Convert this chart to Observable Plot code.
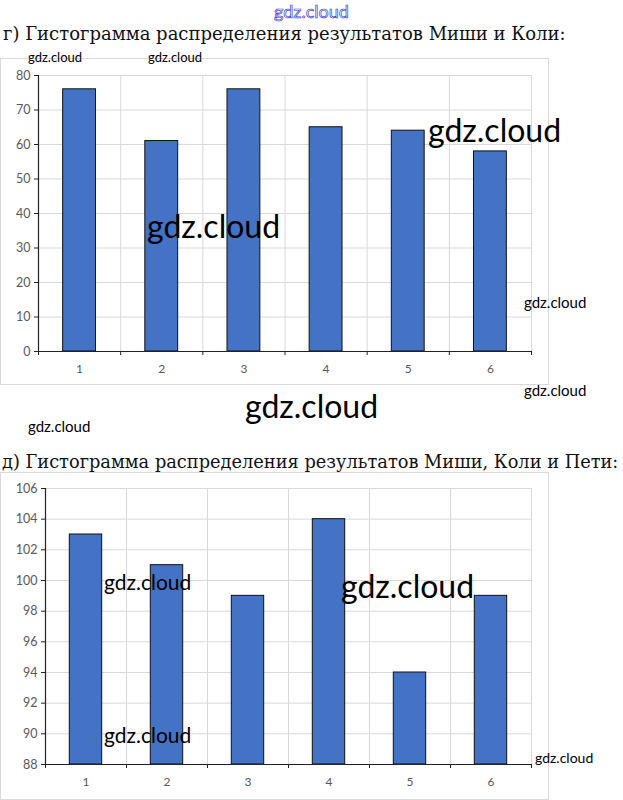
<!DOCTYPE html>
<html>
<head>
<meta charset="utf-8">
<script src="https://cdn.jsdelivr.net/npm/d3@7"></script>
<script src="https://cdn.jsdelivr.net/npm/@observablehq/plot@0.6"></script>
<style>
  html, body { margin: 0; padding: 0; background: #fff; }
  #page { position: relative; width: 623px; height: 800px; overflow: hidden; }
  .title { position: absolute; font-family: "DejaVu Serif", serif; font-size: 18px; color: #111; white-space: nowrap; line-height: 1; }
  .chart { position: absolute; left: 0; border: 1px solid #d9d9d9; box-sizing: border-box; background: #fff; }
  .wm { position: absolute; font-family: Lato, "Open Sans", sans-serif; color: #000; white-space: nowrap; line-height: 1; }
  .wm-blue { color: #fff; -webkit-text-stroke: 0.7px #3a3ad0; }
</style>
</head>
<body>
<div id="page">
  <div class="title" id="t1" style="left:3px; top:25px;">г) Гистограмма распределения результатов Миши и Коли:</div>
  <div class="chart" id="c1" style="top:58px;"></div>
  <div class="title" id="t2" style="left:2px; top:453px; font-size:17.8px;">д) Гистограмма распределения результатов Миши, Коли и Пети:</div>
  <div class="chart" id="c2" style="top:472px;"></div>

  <div class="wm wm-blue" style="left:274px; top:2px; font-size:18px;">gdz.cloud</div>
  <div class="wm" style="left:28px; top:51px; font-size:13px;">gdz.cloud</div>
  <div class="wm" style="left:148px; top:51px; font-size:13px;">gdz.cloud</div>
  <div class="wm" style="left:147px; top:210px; font-size:32px;">gdz.cloud</div>
  <div class="wm" style="left:428px; top:114px; font-size:32px;">gdz.cloud</div>
  <div class="wm" style="left:524px; top:295px; font-size:15px;">gdz.cloud</div>
  <div class="wm" style="left:524px; top:383px; font-size:15px;">gdz.cloud</div>
  <div class="wm" style="left:245px; top:390px; font-size:32px;">gdz.cloud</div>
  <div class="wm" style="left:28px; top:419px; font-size:15px;">gdz.cloud</div>
  <div class="wm" style="left:104px; top:571px; font-size:21px;">gdz.cloud</div>
  <div class="wm" style="left:341px; top:570px; font-size:32px;">gdz.cloud</div>
  <div class="wm" style="left:104px; top:724px; font-size:21px;">gdz.cloud</div>
  <div class="wm" style="left:535px; top:751px; font-size:14px;">gdz.cloud</div>
</div>
<script>
// ---- data ----
const categories = [1, 2, 3, 4, 5, 6];
const chartG = [76, 61, 76, 65, 64, 58];         // г) Миша и Коля
const chartD = [103, 101, 99, 104, 94, 99];      // д) Миша, Коля и Петя
const yTicksG = [0, 10, 20, 30, 40, 50, 60, 70, 80];
const yTicksD = [88, 90, 92, 94, 96, 98, 100, 102, 104, 106];

const barFill = "#4472C4";
const gridColor = "#d9d9d9";
const tickColor = "#595959";

function makeChart({values, yDomain, yTicks, height, marginLeft, marginRight, marginTop, marginBottom, width}) {
  const data = categories.map((c, i) => ({c, v: values[i]}));
  const bounds = d3.range(categories.length + 1).map(i => categories[0] - 0.5 + i);
  const yBase = yDomain[0];
  return Plot.plot({
    width, height, marginLeft, marginRight, marginTop, marginBottom,
    style: {fontFamily: "Lato, 'Open Sans', sans-serif", fontSize: "12px", background: "transparent"},
    x: {domain: [bounds[0], bounds[bounds.length - 1]], axis: null},
    y: {domain: yDomain, axis: null},
    marks: [
      Plot.ruleY(yTicks, {stroke: gridColor, strokeWidth: 1}),
      Plot.ruleX(bounds.slice(1), {stroke: gridColor, strokeWidth: 1}),
      Plot.rectY(data, {x1: d => d.c - 0.2, x2: d => d.c + 0.2, y1: yBase, y2: "v", fill: barFill, stroke: "#111", strokeWidth: 1}),
      Plot.axisY({ticks: yTicks, label: null, tickSize: 4, tickPadding: 4, stroke: "#222", color: tickColor, fontSize: 12.5, tickFormat: d => String(d)}),
      Plot.ruleX([bounds[0]], {stroke: "#222", strokeWidth: 1.2}),
      Plot.ruleY([yBase], {stroke: "#222", strokeWidth: 1.2}),
      Plot.axisX({ticks: bounds, label: null, tickSize: 4, stroke: "#222", tickFormat: () => ""}),
      Plot.axisX({ticks: categories, label: null, tickSize: 0, tickPadding: 13, color: tickColor, fontSize: 12, tickFormat: d => String(d)})
    ]
  });
}

document.getElementById("c1").appendChild(makeChart({
  values: chartG, yDomain: [0, 80], yTicks: yTicksG,
  width: 547, height: 325, marginLeft: 37, marginRight: 17, marginTop: 16, marginBottom: 33
}));
document.getElementById("c2").appendChild(makeChart({
  values: chartD, yDomain: [88, 106], yTicks: yTicksD,
  width: 547, height: 326, marginLeft: 44, marginRight: 17, marginTop: 15, marginBottom: 35
}));
</script>
</body>
</html>
